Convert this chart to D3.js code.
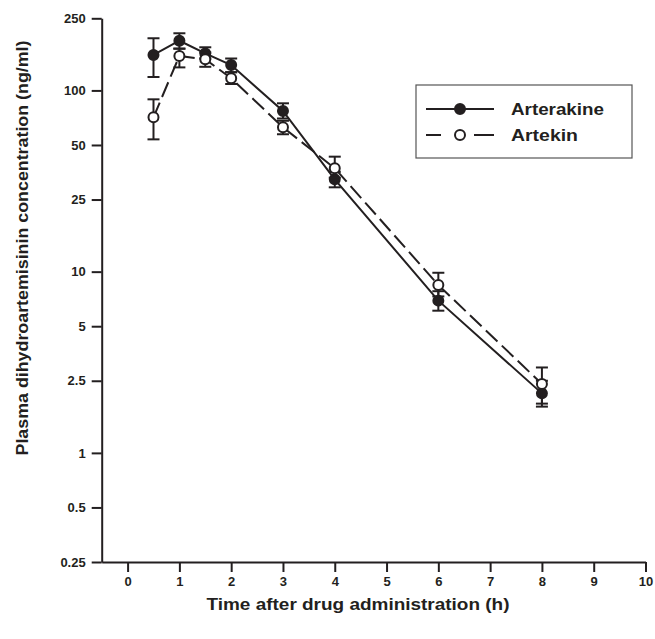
<!DOCTYPE html>
<html>
<head>
<meta charset="utf-8">
<script src="https://cdn.jsdelivr.net/npm/d3@7"></script>
<style>
  body { margin: 0; background: #fff; }
  text { font-family: "Liberation Sans", Arial, sans-serif; font-weight: bold; fill: #231f20; }
</style>
</head>
<body>
<div id="canvas"></div>
<script>
// sampling times (h)
const times = [0.5, 1, 1.5, 2, 3, 4, 6, 8];

// Arterakine (filled circles, solid line)
const arterakine   = [157, 188, 160, 138, 77, 32.3, 6.92, 2.13];
const arterakineLo = [118.6, 170, 150, 126, 70, 29.2, 6.09, 1.80];
const arterakineHi = [194, 206.7, 173, 150, 84.9, 35.5, 7.8, 2.5];

// Artekin (open circles, dashed line)
const artekin   = [71.1, 155, 148.5, 116.7, 62.6, 37.2, 8.44, 2.40];
const artekinLo = [53.7, 134, 135, 108.5, 57.3, 33, 7.3, 1.87];
const artekinHi = [89.3, 170, 162, 126, 68, 43.1, 9.86, 2.96];

const yTicks = [250, 100, 50, 25, 10, 5, 2.5, 1, 0.5, 0.25];
const xTicks = [0, 1, 2, 3, 4, 5, 6, 7, 8, 9, 10];

const width = 655;
const height = 639;
const marginTop = 18.3;
const marginRight = 9.5;
const marginBottom = 77;
const marginLeft = 101.7;
const ink = "#231f20";

const x_axis = d3.scaleLinear()
    .domain([-0.5, 10])
    .range([marginLeft, width - marginRight]);

const y_axis = d3.scaleLog()
    .domain([0.25, 250])
    .range([height - marginBottom, marginTop]);

const svg = d3.select("#canvas")
    .append("svg")
    .attr("width", width)
    .attr("height", height)
    .attr("viewBox", [0, 0, width, height]);

// axes
svg.append("g")
    .attr("transform", `translate(0,${height - marginBottom})`)
    .call(d3.axisBottom(x_axis).tickValues(xTicks).tickSize(10).tickSizeOuter(0).tickPadding(5))
    .call(g => g.selectAll("path, line").attr("stroke", ink).attr("stroke-width", 2))
    .call(g => g.selectAll("text").attr("font-size", 13).attr("fill", ink).style("font-family", null));

svg.append("g")
    .attr("transform", `translate(${marginLeft},0)`)
    .call(d3.axisLeft(y_axis).tickValues(yTicks).tickFormat(d => d).tickSize(10).tickSizeOuter(0).tickPadding(6))
    .call(g => g.selectAll("path, line").attr("stroke", ink).attr("stroke-width", 2))
    .call(g => g.selectAll("text").attr("font-size", 13).attr("fill", ink).style("font-family", null));

// axis titles
svg.append("text")
    .attr("x", 358)
    .attr("y", 610)
    .attr("text-anchor", "middle")
    .attr("font-size", 17)
    .attr("textLength", 303)
    .attr("lengthAdjust", "spacingAndGlyphs")
    .text("Time after drug administration (h)");

svg.append("text")
    .attr("transform", "translate(28,248) rotate(-90)")
    .attr("text-anchor", "middle")
    .attr("font-size", 16)
    .attr("textLength", 415)
    .attr("lengthAdjust", "spacingAndGlyphs")
    .text("Plasma dihydroartemisinin concentration (ng/ml)");

function drawSeries(vals, lo, hi, dash, fill) {
    const pts = times.map((t, i) => ({t: t, v: vals[i], lo: lo[i], hi: hi[i]}));
    const g = svg.append("g");

    g.append("path")
        .datum(pts)
        .attr("fill", "none")
        .attr("stroke", ink)
        .attr("stroke-width", 2)
        .attr("stroke-dasharray", dash)
        .attr("d", d3.line().x(d => x_axis(d.t)).y(d => y_axis(d.v)));

    // error bars
    const eb = g.append("g").attr("stroke", ink).attr("stroke-width", 2);
    eb.selectAll(".v").data(pts).join("line")
        .attr("x1", d => x_axis(d.t)).attr("x2", d => x_axis(d.t))
        .attr("y1", d => y_axis(d.lo)).attr("y2", d => y_axis(d.hi));
    eb.selectAll(".hi").data(pts).join("line")
        .attr("x1", d => x_axis(d.t) - 6).attr("x2", d => x_axis(d.t) + 6)
        .attr("y1", d => y_axis(d.hi)).attr("y2", d => y_axis(d.hi));
    eb.selectAll(".lo").data(pts).join("line")
        .attr("x1", d => x_axis(d.t) - 6).attr("x2", d => x_axis(d.t) + 6)
        .attr("y1", d => y_axis(d.lo)).attr("y2", d => y_axis(d.lo));

    g.selectAll("circle").data(pts).join("circle")
        .attr("cx", d => x_axis(d.t))
        .attr("cy", d => y_axis(d.v))
        .attr("r", 5)
        .attr("fill", fill)
        .attr("stroke", ink)
        .attr("stroke-width", 2);
}

drawSeries(arterakine, arterakineLo, arterakineHi, null, ink);
drawSeries(artekin, artekinLo, artekinHi, "16,6", "#fff");

// legend
const legend = svg.append("g");
legend.append("rect")
    .attr("x", 416).attr("y", 85)
    .attr("width", 216).attr("height", 73)
    .attr("fill", "#fff")
    .attr("stroke", "#555")
    .attr("stroke-width", 1.2);

const legendItems = [
    {name: "Arterakine", fill: ink, len: 93},
    {name: "Artekin", fill: "#fff", len: 67}
];
legendItems.forEach((d, i) => {
    const ly = 109 + i * 26;
    legend.append("line")
        .attr("x1", 426).attr("x2", 494)
        .attr("y1", ly).attr("y2", ly)
        .attr("stroke", ink).attr("stroke-width", 2)
        .attr("stroke-dasharray", i ? "15,5,0,0,0,28,5,0" : null);
    legend.append("circle")
        .attr("cx", 460).attr("cy", ly).attr("r", 5)
        .attr("fill", d.fill).attr("stroke", ink).attr("stroke-width", 2);
    legend.append("text")
        .attr("x", 511).attr("y", ly + 6)
        .attr("font-size", 17)
        .attr("textLength", d.len)
        .attr("lengthAdjust", "spacingAndGlyphs")
        .text(d.name);
});
</script>
</body>
</html>
